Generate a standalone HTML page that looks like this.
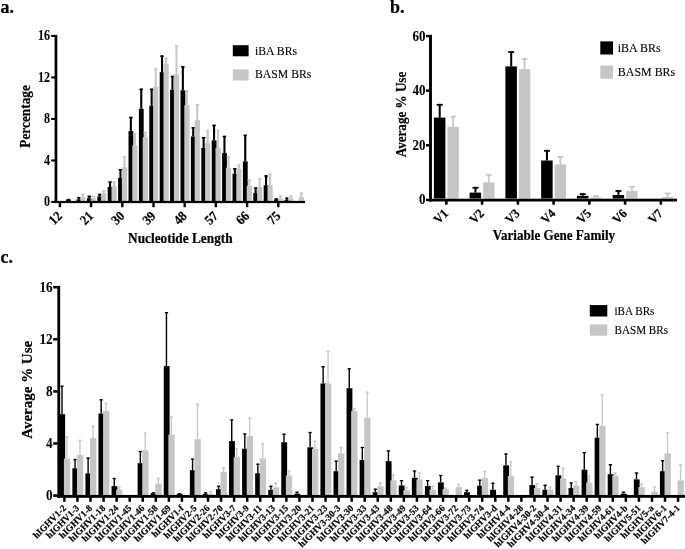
<!DOCTYPE html>
<html lang="en"><head><meta charset="utf-8"><title>Figure</title>
<style>html,body{margin:0;padding:0;background:#fff}svg{display:block;will-change:transform}text{font-family:"Liberation Serif","Times New Roman",serif;fill:#000;stroke:#000;stroke-width:0.1px}.b{font-weight:bold;stroke:#000;stroke-width:0.2px}.d{stroke-width:0.05px}</style></head><body>
<svg width="685" height="549" viewBox="0 0 685 549">
<rect width="685" height="549" fill="#fff"/>
<g id="chartA">
<rect x="67.4" y="198.9" width="2.1" height="0.7" fill="#000"/>
<rect x="66.7" y="198.9" width="3.5" height="1.5" fill="#000"/>
<rect x="66.1" y="199.6" width="4.8" height="1.4" fill="#000"/>
<rect x="77.8" y="196.9" width="2.1" height="2.4" fill="#000"/>
<rect x="77.1" y="196.9" width="3.5" height="1.5" fill="#000"/>
<rect x="76.5" y="199.3" width="4.8" height="1.7" fill="#000"/>
<rect x="81.9" y="193.8" width="2" height="3.6" fill="#c6c6c6"/>
<rect x="81.2" y="193.8" width="3.4" height="1.4" fill="#c6c6c6"/>
<rect x="80.3" y="197.4" width="5.2" height="3.6" fill="#c6c6c6"/>
<rect x="88.2" y="195.7" width="2.1" height="2.6" fill="#000"/>
<rect x="87.5" y="195.7" width="3.5" height="1.5" fill="#000"/>
<rect x="86.9" y="198.3" width="4.8" height="2.7" fill="#000"/>
<rect x="92.3" y="196" width="2" height="2.6" fill="#c6c6c6"/>
<rect x="91.6" y="196" width="3.4" height="1.4" fill="#c6c6c6"/>
<rect x="90.7" y="198.6" width="5.2" height="2.4" fill="#c6c6c6"/>
<rect x="98.6" y="193.8" width="2.1" height="2.6" fill="#000"/>
<rect x="97.9" y="193.8" width="3.5" height="1.5" fill="#000"/>
<rect x="97.3" y="196.4" width="4.8" height="4.6" fill="#000"/>
<rect x="102.7" y="190.3" width="2" height="2.8" fill="#c6c6c6"/>
<rect x="102" y="190.3" width="3.4" height="1.4" fill="#c6c6c6"/>
<rect x="101.1" y="193.1" width="5.2" height="7.9" fill="#c6c6c6"/>
<rect x="109" y="181.4" width="2.1" height="5.5" fill="#000"/>
<rect x="108.3" y="181.4" width="3.5" height="1.5" fill="#000"/>
<rect x="107.7" y="186.9" width="4.8" height="14.1" fill="#000"/>
<rect x="113.1" y="181.4" width="2" height="4.8" fill="#c6c6c6"/>
<rect x="112.4" y="181.4" width="3.4" height="1.4" fill="#c6c6c6"/>
<rect x="111.5" y="186.2" width="5.2" height="14.8" fill="#c6c6c6"/>
<rect x="119.4" y="169" width="2.1" height="8.9" fill="#000"/>
<rect x="118.7" y="169" width="3.5" height="1.5" fill="#000"/>
<rect x="118.1" y="177.9" width="4.8" height="23.1" fill="#000"/>
<rect x="123.5" y="156" width="2" height="11.2" fill="#c6c6c6"/>
<rect x="122.8" y="156" width="3.4" height="1.4" fill="#c6c6c6"/>
<rect x="121.9" y="167.2" width="5.2" height="33.8" fill="#c6c6c6"/>
<rect x="129.8" y="116.8" width="2.1" height="14.3" fill="#000"/>
<rect x="129.1" y="116.8" width="3.5" height="1.5" fill="#000"/>
<rect x="128.5" y="131.1" width="4.8" height="69.9" fill="#000"/>
<rect x="133.9" y="132.8" width="2" height="12.5" fill="#c6c6c6"/>
<rect x="133.2" y="132.8" width="3.4" height="1.4" fill="#c6c6c6"/>
<rect x="132.3" y="145.3" width="5.2" height="55.7" fill="#c6c6c6"/>
<rect x="140.2" y="88.6" width="2.1" height="20.2" fill="#000"/>
<rect x="139.5" y="88.6" width="3.5" height="1.5" fill="#000"/>
<rect x="138.9" y="108.8" width="4.8" height="92.2" fill="#000"/>
<rect x="144.3" y="131.8" width="2" height="5.4" fill="#c6c6c6"/>
<rect x="143.6" y="131.8" width="3.4" height="1.4" fill="#c6c6c6"/>
<rect x="142.7" y="137.2" width="5.2" height="63.8" fill="#c6c6c6"/>
<rect x="150.6" y="88.6" width="2.1" height="17.2" fill="#000"/>
<rect x="149.9" y="88.6" width="3.5" height="1.5" fill="#000"/>
<rect x="149.3" y="105.8" width="4.8" height="95.2" fill="#000"/>
<rect x="154.7" y="68.2" width="2" height="18.3" fill="#c6c6c6"/>
<rect x="154" y="68.2" width="3.4" height="1.4" fill="#c6c6c6"/>
<rect x="153.1" y="86.5" width="5.2" height="114.5" fill="#c6c6c6"/>
<rect x="161" y="55.4" width="2.1" height="16.7" fill="#000"/>
<rect x="160.3" y="55.4" width="3.5" height="1.5" fill="#000"/>
<rect x="159.7" y="72.1" width="4.8" height="128.9" fill="#000"/>
<rect x="165.1" y="57.6" width="2" height="5.8" fill="#c6c6c6"/>
<rect x="164.4" y="57.6" width="3.4" height="1.4" fill="#c6c6c6"/>
<rect x="163.5" y="63.4" width="5.2" height="137.6" fill="#c6c6c6"/>
<rect x="171.4" y="75.8" width="2.1" height="13.9" fill="#000"/>
<rect x="170.7" y="75.8" width="3.5" height="1.5" fill="#000"/>
<rect x="170.1" y="89.7" width="4.8" height="111.3" fill="#000"/>
<rect x="175.5" y="45.3" width="2" height="28.9" fill="#c6c6c6"/>
<rect x="174.8" y="45.3" width="3.4" height="1.4" fill="#c6c6c6"/>
<rect x="173.9" y="74.2" width="5.2" height="126.8" fill="#c6c6c6"/>
<rect x="181.8" y="66.1" width="2.1" height="24.2" fill="#000"/>
<rect x="181.1" y="66.1" width="3.5" height="1.5" fill="#000"/>
<rect x="180.5" y="90.3" width="4.8" height="110.7" fill="#000"/>
<rect x="185.9" y="90.3" width="2" height="14.9" fill="#c6c6c6"/>
<rect x="185.2" y="90.3" width="3.4" height="1.4" fill="#c6c6c6"/>
<rect x="184.3" y="105.2" width="5.2" height="95.8" fill="#c6c6c6"/>
<rect x="192.2" y="127.1" width="2.1" height="9.3" fill="#000"/>
<rect x="191.5" y="127.1" width="3.5" height="1.5" fill="#000"/>
<rect x="190.9" y="136.4" width="4.8" height="64.6" fill="#000"/>
<rect x="196.3" y="104" width="2" height="15.8" fill="#c6c6c6"/>
<rect x="195.6" y="104" width="3.4" height="1.4" fill="#c6c6c6"/>
<rect x="194.7" y="119.8" width="5.2" height="81.2" fill="#c6c6c6"/>
<rect x="202.6" y="137" width="2.1" height="10.9" fill="#000"/>
<rect x="201.9" y="137" width="3.5" height="1.5" fill="#000"/>
<rect x="201.3" y="147.9" width="4.8" height="53.1" fill="#000"/>
<rect x="206.7" y="129.8" width="2" height="13.3" fill="#c6c6c6"/>
<rect x="206" y="129.8" width="3.4" height="1.4" fill="#c6c6c6"/>
<rect x="205.1" y="143.1" width="5.2" height="57.9" fill="#c6c6c6"/>
<rect x="213" y="124.7" width="2.1" height="15.7" fill="#000"/>
<rect x="212.3" y="124.7" width="3.5" height="1.5" fill="#000"/>
<rect x="211.7" y="140.4" width="4.8" height="60.6" fill="#000"/>
<rect x="217.1" y="129.7" width="2" height="18.1" fill="#c6c6c6"/>
<rect x="216.4" y="129.7" width="3.4" height="1.4" fill="#c6c6c6"/>
<rect x="215.5" y="147.8" width="5.2" height="53.2" fill="#c6c6c6"/>
<rect x="223.4" y="135.8" width="2.1" height="17.3" fill="#000"/>
<rect x="222.7" y="135.8" width="3.5" height="1.5" fill="#000"/>
<rect x="222.1" y="153.1" width="4.8" height="47.9" fill="#000"/>
<rect x="227.5" y="156.3" width="2" height="11.4" fill="#c6c6c6"/>
<rect x="226.8" y="156.3" width="3.4" height="1.4" fill="#c6c6c6"/>
<rect x="225.9" y="167.7" width="5.2" height="33.3" fill="#c6c6c6"/>
<rect x="233.8" y="168" width="2.1" height="5.8" fill="#000"/>
<rect x="233.1" y="168" width="3.5" height="1.5" fill="#000"/>
<rect x="232.5" y="173.8" width="4.8" height="27.2" fill="#000"/>
<rect x="237.9" y="164.6" width="2" height="4.1" fill="#c6c6c6"/>
<rect x="237.2" y="164.6" width="3.4" height="1.4" fill="#c6c6c6"/>
<rect x="236.3" y="168.7" width="5.2" height="32.3" fill="#c6c6c6"/>
<rect x="244.2" y="134.7" width="2.1" height="26.7" fill="#000"/>
<rect x="243.5" y="134.7" width="3.5" height="1.5" fill="#000"/>
<rect x="242.9" y="161.4" width="4.8" height="39.6" fill="#000"/>
<rect x="248.3" y="179.6" width="2" height="6.2" fill="#c6c6c6"/>
<rect x="247.6" y="179.6" width="3.4" height="1.4" fill="#c6c6c6"/>
<rect x="246.7" y="185.8" width="5.2" height="15.2" fill="#c6c6c6"/>
<rect x="254.6" y="187.4" width="2.1" height="5.7" fill="#000"/>
<rect x="253.9" y="187.4" width="3.5" height="1.5" fill="#000"/>
<rect x="253.3" y="193.1" width="4.8" height="7.9" fill="#000"/>
<rect x="258.7" y="178.2" width="2" height="8.7" fill="#c6c6c6"/>
<rect x="258" y="178.2" width="3.4" height="1.4" fill="#c6c6c6"/>
<rect x="257.1" y="186.9" width="5.2" height="14.1" fill="#c6c6c6"/>
<rect x="265" y="175.3" width="2.1" height="9.9" fill="#000"/>
<rect x="264.3" y="175.3" width="3.5" height="1.5" fill="#000"/>
<rect x="263.7" y="185.2" width="4.8" height="15.8" fill="#000"/>
<rect x="269.1" y="173.5" width="2" height="11.7" fill="#c6c6c6"/>
<rect x="268.4" y="173.5" width="3.4" height="1.4" fill="#c6c6c6"/>
<rect x="267.5" y="185.2" width="5.2" height="15.8" fill="#c6c6c6"/>
<rect x="275.4" y="198.3" width="2.1" height="1" fill="#000"/>
<rect x="274.7" y="198.3" width="3.5" height="1.5" fill="#000"/>
<rect x="274.1" y="199.3" width="4.8" height="1.7" fill="#000"/>
<rect x="279.5" y="195.3" width="2" height="3" fill="#c6c6c6"/>
<rect x="278.8" y="195.3" width="3.4" height="1.4" fill="#c6c6c6"/>
<rect x="277.9" y="198.3" width="5.2" height="2.7" fill="#c6c6c6"/>
<rect x="285.8" y="197.6" width="2.1" height="2.2" fill="#000"/>
<rect x="285.1" y="197.6" width="3.5" height="1.5" fill="#000"/>
<rect x="284.5" y="199.8" width="4.8" height="1.2" fill="#000"/>
<rect x="289.9" y="195.3" width="2" height="3" fill="#c6c6c6"/>
<rect x="289.2" y="195.3" width="3.4" height="1.4" fill="#c6c6c6"/>
<rect x="288.3" y="198.3" width="5.2" height="2.7" fill="#c6c6c6"/>
<rect x="300.3" y="192.5" width="2" height="4.7" fill="#c6c6c6"/>
<rect x="299.6" y="192.5" width="3.4" height="1.4" fill="#c6c6c6"/>
<rect x="298.7" y="197.2" width="5.2" height="3.8" fill="#c6c6c6"/>
<rect x="54.6" y="34.9" width="2.7" height="168.1" fill="#000"/>
<rect x="54.6" y="200.9" width="250.4" height="2.2" fill="#000"/>
<rect x="51.2" y="34.9" width="3.8" height="2.1" fill="#000"/>
<text class="b d" font-size="13" text-anchor="end" transform="translate(50,40.2) scale(0.93,1.07)">16</text>
<rect x="51.2" y="76.4" width="3.8" height="2.1" fill="#000"/>
<text class="b d" font-size="13" text-anchor="end" transform="translate(50,81.7) scale(0.93,1.07)">12</text>
<rect x="51.2" y="117.9" width="3.8" height="2.1" fill="#000"/>
<text class="b d" font-size="13" text-anchor="end" transform="translate(50,123.2) scale(0.93,1.07)">8</text>
<rect x="51.2" y="159.4" width="3.8" height="2.1" fill="#000"/>
<text class="b d" font-size="13" text-anchor="end" transform="translate(50,164.7) scale(0.93,1.07)">4</text>
<rect x="51.2" y="200.9" width="3.8" height="2.1" fill="#000"/>
<text class="b d" font-size="13" text-anchor="end" transform="translate(50,206.2) scale(0.93,1.07)">0</text>
<rect x="58.7" y="202.5" width="2.4" height="4.7" fill="#000"/>
<text class="b" font-size="13" text-anchor="end" transform="translate(62.9,216.8) rotate(-45) scale(0.96,1.04)">12</text>
<rect x="89.9" y="202.5" width="2.4" height="4.7" fill="#000"/>
<text class="b" font-size="13" text-anchor="end" transform="translate(94.1,216.8) rotate(-45) scale(0.96,1.04)">21</text>
<rect x="121.1" y="202.5" width="2.4" height="4.7" fill="#000"/>
<text class="b" font-size="13" text-anchor="end" transform="translate(125.3,216.8) rotate(-45) scale(0.96,1.04)">30</text>
<rect x="152.3" y="202.5" width="2.4" height="4.7" fill="#000"/>
<text class="b" font-size="13" text-anchor="end" transform="translate(156.5,216.8) rotate(-45) scale(0.96,1.04)">39</text>
<rect x="183.5" y="202.5" width="2.4" height="4.7" fill="#000"/>
<text class="b" font-size="13" text-anchor="end" transform="translate(187.7,216.8) rotate(-45) scale(0.96,1.04)">48</text>
<rect x="214.7" y="202.5" width="2.4" height="4.7" fill="#000"/>
<text class="b" font-size="13" text-anchor="end" transform="translate(218.9,216.8) rotate(-45) scale(0.96,1.04)">57</text>
<rect x="245.9" y="202.5" width="2.4" height="4.7" fill="#000"/>
<text class="b" font-size="13" text-anchor="end" transform="translate(250.1,216.8) rotate(-45) scale(0.96,1.04)">66</text>
<rect x="277.1" y="202.5" width="2.4" height="4.7" fill="#000"/>
<text class="b" font-size="13" text-anchor="end" transform="translate(281.3,216.8) rotate(-45) scale(0.96,1.04)">75</text>
<text class="b" font-size="13.3" text-anchor="middle" transform="translate(180.35,242.6) scale(1,1.05)">Nucleotide Length</text>
<text class="b" font-size="13.3" text-anchor="middle" transform="translate(30.3,116.4) rotate(-90) scale(1,1.05)">Percentage</text>
<rect x="232.8" y="45.2" width="15.8" height="11.1" fill="#000"/>
<rect x="232.8" y="69.4" width="15.8" height="11.1" fill="#c6c6c6"/>
<text font-size="11.75" transform="translate(255,54.6) scale(1,1.05)">iBA BRs</text>
<text font-size="11.75" transform="translate(255,78.4) scale(1,1.05)">BASM BRs</text>
<text class="b" font-size="18" transform="translate(0.5,13) scale(1,1.07)">a.</text>
</g>
<g id="chartB">
<rect x="452.2" y="115.8" width="1.8" height="11" fill="#c6c6c6"/>
<rect x="450.1" y="115.8" width="6" height="1.6" fill="#c6c6c6"/>
<rect x="447.4" y="126.8" width="11.4" height="71.7" fill="#c6c6c6"/>
<rect x="438.7" y="103.9" width="2" height="13.7" fill="#000"/>
<rect x="436.7" y="103.9" width="6" height="1.8" fill="#000"/>
<rect x="433.9" y="117.6" width="11.5" height="80.9" fill="#000"/>
<rect x="487.95" y="174" width="1.8" height="8.4" fill="#c6c6c6"/>
<rect x="485.85" y="174" width="6" height="1.6" fill="#c6c6c6"/>
<rect x="483.15" y="182.4" width="11.4" height="16.1" fill="#c6c6c6"/>
<rect x="474.45" y="186.9" width="2" height="5.7" fill="#000"/>
<rect x="472.45" y="186.9" width="6" height="1.8" fill="#000"/>
<rect x="469.65" y="192.6" width="11.5" height="5.9" fill="#000"/>
<rect x="523.7" y="58.3" width="1.8" height="10.8" fill="#c6c6c6"/>
<rect x="521.6" y="58.3" width="6" height="1.6" fill="#c6c6c6"/>
<rect x="518.9" y="69.1" width="11.4" height="129.4" fill="#c6c6c6"/>
<rect x="510.2" y="51.2" width="2" height="15.2" fill="#000"/>
<rect x="508.2" y="51.2" width="6" height="1.8" fill="#000"/>
<rect x="505.4" y="66.4" width="11.5" height="132.1" fill="#000"/>
<rect x="559.45" y="156.1" width="1.8" height="8.3" fill="#c6c6c6"/>
<rect x="557.35" y="156.1" width="6" height="1.6" fill="#c6c6c6"/>
<rect x="554.65" y="164.4" width="11.4" height="34.1" fill="#c6c6c6"/>
<rect x="545.95" y="149.9" width="2" height="10.6" fill="#000"/>
<rect x="543.95" y="149.9" width="6" height="1.8" fill="#000"/>
<rect x="541.15" y="160.5" width="11.5" height="38" fill="#000"/>
<rect x="595.2" y="195.3" width="1.8" height="2.1" fill="#c6c6c6"/>
<rect x="593.1" y="195.3" width="6" height="1.6" fill="#c6c6c6"/>
<rect x="590.4" y="197.4" width="11.4" height="1.1" fill="#c6c6c6"/>
<rect x="581.7" y="193.2" width="2" height="2.6" fill="#000"/>
<rect x="579.7" y="193.2" width="6" height="1.8" fill="#000"/>
<rect x="576.9" y="195.8" width="11.5" height="2.7" fill="#000"/>
<rect x="630.95" y="186" width="1.8" height="4.9" fill="#c6c6c6"/>
<rect x="628.85" y="186" width="6" height="1.6" fill="#c6c6c6"/>
<rect x="626.15" y="190.9" width="11.4" height="7.6" fill="#c6c6c6"/>
<rect x="617.45" y="190.1" width="2" height="4.9" fill="#000"/>
<rect x="615.45" y="190.1" width="6" height="1.8" fill="#000"/>
<rect x="612.65" y="195" width="11.5" height="3.5" fill="#000"/>
<rect x="666.7" y="192.7" width="1.8" height="4.3" fill="#c6c6c6"/>
<rect x="664.6" y="192.7" width="6" height="1.6" fill="#c6c6c6"/>
<rect x="661.9" y="197" width="11.4" height="1.5" fill="#c6c6c6"/>
<rect x="429.05" y="34.8" width="2.9" height="166.7" fill="#000"/>
<rect x="428.8" y="198.7" width="248.2" height="2.8" fill="#000"/>
<rect x="426" y="34.8" width="3" height="2.4" fill="#000"/>
<text class="b d" font-size="13" text-anchor="end" transform="translate(425.4,40.5) scale(1,1.04)">60</text>
<rect x="426" y="89.45" width="3" height="2.4" fill="#000"/>
<text class="b d" font-size="13" text-anchor="end" transform="translate(425.4,95.15) scale(1,1.04)">40</text>
<rect x="426" y="144.1" width="3" height="2.4" fill="#000"/>
<text class="b d" font-size="13" text-anchor="end" transform="translate(425.4,149.8) scale(1,1.04)">20</text>
<rect x="426" y="198.75" width="3" height="2.4" fill="#000"/>
<text class="b d" font-size="13" text-anchor="end" transform="translate(425.4,204.45) scale(1,1.04)">0</text>
<rect x="445.05" y="200.5" width="2.6" height="4.2" fill="#000"/>
<text class="b" font-size="12.6" text-anchor="end" transform="translate(449.1,214.2) rotate(-45) scale(0.95,1.02)">V1</text>
<rect x="480.8" y="200.5" width="2.6" height="4.2" fill="#000"/>
<text class="b" font-size="12.6" text-anchor="end" transform="translate(484.85,214.2) rotate(-45) scale(0.95,1.02)">V2</text>
<rect x="516.55" y="200.5" width="2.6" height="4.2" fill="#000"/>
<text class="b" font-size="12.6" text-anchor="end" transform="translate(520.6,214.2) rotate(-45) scale(0.95,1.02)">V3</text>
<rect x="552.3" y="200.5" width="2.6" height="4.2" fill="#000"/>
<text class="b" font-size="12.6" text-anchor="end" transform="translate(556.35,214.2) rotate(-45) scale(0.95,1.02)">V4</text>
<rect x="588.05" y="200.5" width="2.6" height="4.2" fill="#000"/>
<text class="b" font-size="12.6" text-anchor="end" transform="translate(592.1,214.2) rotate(-45) scale(0.95,1.02)">V5</text>
<rect x="623.8" y="200.5" width="2.6" height="4.2" fill="#000"/>
<text class="b" font-size="12.6" text-anchor="end" transform="translate(627.85,214.2) rotate(-45) scale(0.95,1.02)">V6</text>
<rect x="659.55" y="200.5" width="2.6" height="4.2" fill="#000"/>
<text class="b" font-size="12.6" text-anchor="end" transform="translate(663.6,214.2) rotate(-45) scale(0.95,1.02)">V7</text>
<text class="b" font-size="13.1" text-anchor="middle" transform="translate(553.9,240.4) scale(1,1.05)">Variable Gene Family</text>
<text class="b" font-size="13.1" text-anchor="middle" transform="translate(406.4,114.5) rotate(-90) scale(1,1.05)">Average % Use</text>
<rect x="600.3" y="41.4" width="12.7" height="13.1" fill="#000"/>
<rect x="600.3" y="65.6" width="12.7" height="13.1" fill="#c6c6c6"/>
<text font-size="11.95" transform="translate(617.8,52.2) scale(1,1.05)">iBA BRs</text>
<text font-size="11.95" transform="translate(617.8,76.2) scale(1,1.05)">BASM BRs</text>
<text class="b" font-size="18" transform="translate(390,13) scale(1,1.07)">b.</text>
</g>
<g id="chartC">
<rect x="61.3" y="385.6" width="1.4" height="28.6" fill="#000"/>
<rect x="60.35" y="385.6" width="3.3" height="1.3" fill="#000"/>
<rect x="59.3" y="414.2" width="5.85" height="81" fill="#000"/>
<rect x="66.25" y="436.4" width="1.3" height="22.1" fill="#c6c6c6"/>
<rect x="65.3" y="436.4" width="3.2" height="1.2" fill="#c6c6c6"/>
<rect x="63.9" y="458.5" width="6.3" height="36.7" fill="#c6c6c6"/>
<rect x="74.36" y="458.9" width="1.4" height="9.4" fill="#000"/>
<rect x="73.41" y="458.9" width="3.3" height="1.3" fill="#000"/>
<rect x="72.36" y="468.3" width="5.85" height="26.9" fill="#000"/>
<rect x="79.31" y="439.7" width="1.3" height="15.3" fill="#c6c6c6"/>
<rect x="78.36" y="439.7" width="3.2" height="1.2" fill="#c6c6c6"/>
<rect x="76.96" y="455" width="6.3" height="40.2" fill="#c6c6c6"/>
<rect x="87.41" y="457.5" width="1.4" height="15.9" fill="#000"/>
<rect x="86.46" y="457.5" width="3.3" height="1.3" fill="#000"/>
<rect x="85.41" y="473.4" width="5.85" height="21.8" fill="#000"/>
<rect x="92.36" y="425.4" width="1.3" height="12.7" fill="#c6c6c6"/>
<rect x="91.41" y="425.4" width="3.2" height="1.2" fill="#c6c6c6"/>
<rect x="90.01" y="438.1" width="6.3" height="57.1" fill="#c6c6c6"/>
<rect x="100.47" y="399.2" width="1.4" height="14.3" fill="#000"/>
<rect x="99.52" y="399.2" width="3.3" height="1.3" fill="#000"/>
<rect x="98.47" y="413.5" width="5.85" height="81.7" fill="#000"/>
<rect x="105.42" y="402.7" width="1.3" height="8.2" fill="#c6c6c6"/>
<rect x="104.47" y="402.7" width="3.2" height="1.2" fill="#c6c6c6"/>
<rect x="103.07" y="410.9" width="6.3" height="84.3" fill="#c6c6c6"/>
<rect x="113.53" y="477.9" width="1.4" height="8.2" fill="#000"/>
<rect x="112.58" y="477.9" width="3.3" height="1.3" fill="#000"/>
<rect x="111.53" y="486.1" width="5.85" height="9.1" fill="#000"/>
<rect x="118.48" y="486.7" width="1.3" height="2.9" fill="#c6c6c6"/>
<rect x="117.53" y="486.7" width="3.2" height="1.2" fill="#c6c6c6"/>
<rect x="116.13" y="489.6" width="6.3" height="5.6" fill="#c6c6c6"/>
<rect x="139.64" y="450.9" width="1.4" height="12.3" fill="#000"/>
<rect x="138.69" y="450.9" width="3.3" height="1.3" fill="#000"/>
<rect x="137.64" y="463.2" width="5.85" height="32" fill="#000"/>
<rect x="144.59" y="432.6" width="1.3" height="17.7" fill="#c6c6c6"/>
<rect x="143.64" y="432.6" width="3.2" height="1.2" fill="#c6c6c6"/>
<rect x="142.24" y="450.3" width="6.3" height="44.9" fill="#c6c6c6"/>
<rect x="152.7" y="492.2" width="1.4" height="1.1" fill="#000"/>
<rect x="151.75" y="492.2" width="3.3" height="1.3" fill="#000"/>
<rect x="150.7" y="493.3" width="5.85" height="1.9" fill="#000"/>
<rect x="157.65" y="477.9" width="1.3" height="5.7" fill="#c6c6c6"/>
<rect x="156.7" y="477.9" width="3.2" height="1.2" fill="#c6c6c6"/>
<rect x="155.3" y="483.6" width="6.3" height="11.6" fill="#c6c6c6"/>
<rect x="165.76" y="312" width="1.4" height="54.1" fill="#000"/>
<rect x="164.81" y="312" width="3.3" height="1.3" fill="#000"/>
<rect x="163.76" y="366.1" width="5.85" height="129.1" fill="#000"/>
<rect x="170.71" y="416.2" width="1.3" height="18.4" fill="#c6c6c6"/>
<rect x="169.76" y="416.2" width="3.2" height="1.2" fill="#c6c6c6"/>
<rect x="168.36" y="434.6" width="6.3" height="60.6" fill="#c6c6c6"/>
<rect x="178.81" y="493" width="1.4" height="0.9" fill="#000"/>
<rect x="177.86" y="493" width="3.3" height="1.3" fill="#000"/>
<rect x="176.81" y="493.9" width="5.85" height="1.3" fill="#000"/>
<rect x="191.87" y="458.5" width="1.4" height="11.7" fill="#000"/>
<rect x="190.92" y="458.5" width="3.3" height="1.3" fill="#000"/>
<rect x="189.87" y="470.2" width="5.85" height="25" fill="#000"/>
<rect x="196.82" y="403.7" width="1.3" height="35.4" fill="#c6c6c6"/>
<rect x="195.87" y="403.7" width="3.2" height="1.2" fill="#c6c6c6"/>
<rect x="194.47" y="439.1" width="6.3" height="56.1" fill="#c6c6c6"/>
<rect x="204.93" y="492.2" width="1.4" height="1.7" fill="#000"/>
<rect x="203.98" y="492.2" width="3.3" height="1.3" fill="#000"/>
<rect x="202.93" y="493.9" width="5.85" height="1.3" fill="#000"/>
<rect x="209.88" y="491.2" width="1.3" height="2.7" fill="#c6c6c6"/>
<rect x="208.93" y="491.2" width="3.2" height="1.2" fill="#c6c6c6"/>
<rect x="207.53" y="493.9" width="6.3" height="1.3" fill="#c6c6c6"/>
<rect x="217.98" y="485.7" width="1.4" height="3.5" fill="#000"/>
<rect x="217.03" y="485.7" width="3.3" height="1.3" fill="#000"/>
<rect x="215.98" y="489.2" width="5.85" height="6" fill="#000"/>
<rect x="222.93" y="467.3" width="1.3" height="4.5" fill="#c6c6c6"/>
<rect x="221.98" y="467.3" width="3.2" height="1.2" fill="#c6c6c6"/>
<rect x="220.58" y="471.8" width="6.3" height="23.4" fill="#c6c6c6"/>
<rect x="231.04" y="419.3" width="1.4" height="21.8" fill="#000"/>
<rect x="230.09" y="419.3" width="3.3" height="1.3" fill="#000"/>
<rect x="229.04" y="441.1" width="5.85" height="54.1" fill="#000"/>
<rect x="235.99" y="448.3" width="1.3" height="8.8" fill="#c6c6c6"/>
<rect x="235.04" y="448.3" width="3.2" height="1.2" fill="#c6c6c6"/>
<rect x="233.64" y="457.1" width="6.3" height="38.1" fill="#c6c6c6"/>
<rect x="244.1" y="433.4" width="1.4" height="15.3" fill="#000"/>
<rect x="243.15" y="433.4" width="3.3" height="1.3" fill="#000"/>
<rect x="242.1" y="448.7" width="5.85" height="46.5" fill="#000"/>
<rect x="249.05" y="417.6" width="1.3" height="18.4" fill="#c6c6c6"/>
<rect x="248.1" y="417.6" width="3.2" height="1.2" fill="#c6c6c6"/>
<rect x="246.7" y="436" width="6.3" height="59.2" fill="#c6c6c6"/>
<rect x="257.16" y="463.6" width="1.4" height="9.6" fill="#000"/>
<rect x="256.21" y="463.6" width="3.3" height="1.3" fill="#000"/>
<rect x="255.16" y="473.2" width="5.85" height="22" fill="#000"/>
<rect x="262.11" y="443.2" width="1.3" height="15.3" fill="#c6c6c6"/>
<rect x="261.16" y="443.2" width="3.2" height="1.2" fill="#c6c6c6"/>
<rect x="259.76" y="458.5" width="6.3" height="36.7" fill="#c6c6c6"/>
<rect x="270.21" y="485.7" width="1.4" height="4.1" fill="#000"/>
<rect x="269.26" y="485.7" width="3.3" height="1.3" fill="#000"/>
<rect x="268.21" y="489.8" width="5.85" height="5.4" fill="#000"/>
<rect x="275.16" y="482.4" width="1.3" height="5.1" fill="#c6c6c6"/>
<rect x="274.21" y="482.4" width="3.2" height="1.2" fill="#c6c6c6"/>
<rect x="272.81" y="487.5" width="6.3" height="7.7" fill="#c6c6c6"/>
<rect x="283.27" y="433.6" width="1.4" height="8.6" fill="#000"/>
<rect x="282.32" y="433.6" width="3.3" height="1.3" fill="#000"/>
<rect x="281.27" y="442.2" width="5.85" height="53" fill="#000"/>
<rect x="288.22" y="470.4" width="1.3" height="5.1" fill="#c6c6c6"/>
<rect x="287.27" y="470.4" width="3.2" height="1.2" fill="#c6c6c6"/>
<rect x="285.87" y="475.5" width="6.3" height="19.7" fill="#c6c6c6"/>
<rect x="296.33" y="491.6" width="1.4" height="2.1" fill="#000"/>
<rect x="295.38" y="491.6" width="3.3" height="1.3" fill="#000"/>
<rect x="294.33" y="493.7" width="5.85" height="1.5" fill="#000"/>
<rect x="309.38" y="431.9" width="1.4" height="15.4" fill="#000"/>
<rect x="308.43" y="431.9" width="3.3" height="1.3" fill="#000"/>
<rect x="307.38" y="447.3" width="5.85" height="47.9" fill="#000"/>
<rect x="314.33" y="440.7" width="1.3" height="8.2" fill="#c6c6c6"/>
<rect x="313.38" y="440.7" width="3.2" height="1.2" fill="#c6c6c6"/>
<rect x="311.98" y="448.9" width="6.3" height="46.3" fill="#c6c6c6"/>
<rect x="322.44" y="366.1" width="1.4" height="17.4" fill="#000"/>
<rect x="321.49" y="366.1" width="3.3" height="1.3" fill="#000"/>
<rect x="320.44" y="383.5" width="5.85" height="111.7" fill="#000"/>
<rect x="327.39" y="350.8" width="1.3" height="32.7" fill="#c6c6c6"/>
<rect x="326.44" y="350.8" width="3.2" height="1.2" fill="#c6c6c6"/>
<rect x="325.04" y="383.5" width="6.3" height="111.7" fill="#c6c6c6"/>
<rect x="335.5" y="460.6" width="1.4" height="10.6" fill="#000"/>
<rect x="334.55" y="460.6" width="3.3" height="1.3" fill="#000"/>
<rect x="333.5" y="471.2" width="5.85" height="24" fill="#000"/>
<rect x="340.45" y="446.7" width="1.3" height="6.7" fill="#c6c6c6"/>
<rect x="339.5" y="446.7" width="3.2" height="1.2" fill="#c6c6c6"/>
<rect x="338.1" y="453.4" width="6.3" height="41.8" fill="#c6c6c6"/>
<rect x="348.55" y="368.2" width="1.4" height="20" fill="#000"/>
<rect x="347.6" y="368.2" width="3.3" height="1.3" fill="#000"/>
<rect x="346.55" y="388.2" width="5.85" height="107" fill="#000"/>
<rect x="353.5" y="407.8" width="1.3" height="3.3" fill="#c6c6c6"/>
<rect x="352.55" y="407.8" width="3.2" height="1.2" fill="#c6c6c6"/>
<rect x="351.15" y="411.1" width="6.3" height="84.1" fill="#c6c6c6"/>
<rect x="361.61" y="446.9" width="1.4" height="13" fill="#000"/>
<rect x="360.66" y="446.9" width="3.3" height="1.3" fill="#000"/>
<rect x="359.61" y="459.9" width="5.85" height="35.3" fill="#000"/>
<rect x="366.56" y="391.7" width="1.3" height="25.9" fill="#c6c6c6"/>
<rect x="365.61" y="391.7" width="3.2" height="1.2" fill="#c6c6c6"/>
<rect x="364.21" y="417.6" width="6.3" height="77.6" fill="#c6c6c6"/>
<rect x="374.67" y="488.6" width="1.4" height="3.6" fill="#000"/>
<rect x="373.72" y="488.6" width="3.3" height="1.3" fill="#000"/>
<rect x="372.67" y="492.2" width="5.85" height="3" fill="#000"/>
<rect x="379.62" y="482" width="1.3" height="4.1" fill="#c6c6c6"/>
<rect x="378.67" y="482" width="3.2" height="1.2" fill="#c6c6c6"/>
<rect x="377.27" y="486.1" width="6.3" height="9.1" fill="#c6c6c6"/>
<rect x="387.73" y="450.3" width="1.4" height="10.9" fill="#000"/>
<rect x="386.78" y="450.3" width="3.3" height="1.3" fill="#000"/>
<rect x="385.73" y="461.2" width="5.85" height="34" fill="#000"/>
<rect x="392.68" y="474.2" width="1.3" height="6.2" fill="#c6c6c6"/>
<rect x="391.73" y="474.2" width="3.2" height="1.2" fill="#c6c6c6"/>
<rect x="390.33" y="480.4" width="6.3" height="14.8" fill="#c6c6c6"/>
<rect x="400.78" y="480" width="1.4" height="5.5" fill="#000"/>
<rect x="399.83" y="480" width="3.3" height="1.3" fill="#000"/>
<rect x="398.78" y="485.5" width="5.85" height="9.7" fill="#000"/>
<rect x="405.73" y="487.1" width="1.3" height="3.1" fill="#c6c6c6"/>
<rect x="404.78" y="487.1" width="3.2" height="1.2" fill="#c6c6c6"/>
<rect x="403.38" y="490.2" width="6.3" height="5" fill="#c6c6c6"/>
<rect x="413.84" y="470.4" width="1.4" height="7.5" fill="#000"/>
<rect x="412.89" y="470.4" width="3.3" height="1.3" fill="#000"/>
<rect x="411.84" y="477.9" width="5.85" height="17.3" fill="#000"/>
<rect x="418.79" y="472.4" width="1.3" height="7" fill="#c6c6c6"/>
<rect x="417.84" y="472.4" width="3.2" height="1.2" fill="#c6c6c6"/>
<rect x="416.44" y="479.4" width="6.3" height="15.8" fill="#c6c6c6"/>
<rect x="426.9" y="480" width="1.4" height="6.1" fill="#000"/>
<rect x="425.95" y="480" width="3.3" height="1.3" fill="#000"/>
<rect x="424.9" y="486.1" width="5.85" height="9.1" fill="#000"/>
<rect x="431.85" y="485.7" width="1.3" height="3.9" fill="#c6c6c6"/>
<rect x="430.9" y="485.7" width="3.2" height="1.2" fill="#c6c6c6"/>
<rect x="429.5" y="489.6" width="6.3" height="5.6" fill="#c6c6c6"/>
<rect x="439.95" y="474.9" width="1.4" height="7.5" fill="#000"/>
<rect x="439" y="474.9" width="3.3" height="1.3" fill="#000"/>
<rect x="437.95" y="482.4" width="5.85" height="12.8" fill="#000"/>
<rect x="444.9" y="487.5" width="1.3" height="1.7" fill="#c6c6c6"/>
<rect x="443.95" y="487.5" width="3.2" height="1.2" fill="#c6c6c6"/>
<rect x="442.55" y="489.2" width="6.3" height="6" fill="#c6c6c6"/>
<rect x="457.96" y="483.6" width="1.3" height="3.5" fill="#c6c6c6"/>
<rect x="457.01" y="483.6" width="3.2" height="1.2" fill="#c6c6c6"/>
<rect x="455.61" y="487.1" width="6.3" height="8.1" fill="#c6c6c6"/>
<rect x="466.07" y="489.8" width="1.4" height="2.4" fill="#000"/>
<rect x="465.12" y="489.8" width="3.3" height="1.3" fill="#000"/>
<rect x="464.07" y="492.2" width="5.85" height="3" fill="#000"/>
<rect x="479.12" y="479.6" width="1.4" height="6.1" fill="#000"/>
<rect x="478.17" y="479.6" width="3.3" height="1.3" fill="#000"/>
<rect x="477.12" y="485.7" width="5.85" height="9.5" fill="#000"/>
<rect x="484.07" y="470.8" width="1.3" height="7.1" fill="#c6c6c6"/>
<rect x="483.12" y="470.8" width="3.2" height="1.2" fill="#c6c6c6"/>
<rect x="481.72" y="477.9" width="6.3" height="17.3" fill="#c6c6c6"/>
<rect x="492.18" y="482.6" width="1.4" height="7.2" fill="#000"/>
<rect x="491.23" y="482.6" width="3.3" height="1.3" fill="#000"/>
<rect x="490.18" y="489.8" width="5.85" height="5.4" fill="#000"/>
<rect x="505.24" y="453.4" width="1.4" height="11.9" fill="#000"/>
<rect x="504.29" y="453.4" width="3.3" height="1.3" fill="#000"/>
<rect x="503.24" y="465.3" width="5.85" height="29.9" fill="#000"/>
<rect x="510.19" y="461" width="1.3" height="14.9" fill="#c6c6c6"/>
<rect x="509.24" y="461" width="3.2" height="1.2" fill="#c6c6c6"/>
<rect x="507.84" y="475.9" width="6.3" height="19.3" fill="#c6c6c6"/>
<rect x="531.35" y="476.5" width="1.4" height="8.6" fill="#000"/>
<rect x="530.4" y="476.5" width="3.3" height="1.3" fill="#000"/>
<rect x="529.35" y="485.1" width="5.85" height="10.1" fill="#000"/>
<rect x="536.3" y="483" width="1.3" height="5.1" fill="#c6c6c6"/>
<rect x="535.35" y="483" width="3.2" height="1.2" fill="#c6c6c6"/>
<rect x="533.95" y="488.1" width="6.3" height="7.1" fill="#c6c6c6"/>
<rect x="544.41" y="484.7" width="1.4" height="5.1" fill="#000"/>
<rect x="543.46" y="484.7" width="3.3" height="1.3" fill="#000"/>
<rect x="542.41" y="489.8" width="5.85" height="5.4" fill="#000"/>
<rect x="549.36" y="486.5" width="1.3" height="3.3" fill="#c6c6c6"/>
<rect x="548.41" y="486.5" width="3.2" height="1.2" fill="#c6c6c6"/>
<rect x="547.01" y="489.8" width="6.3" height="5.4" fill="#c6c6c6"/>
<rect x="557.47" y="465.7" width="1.4" height="9.6" fill="#000"/>
<rect x="556.52" y="465.7" width="3.3" height="1.3" fill="#000"/>
<rect x="555.47" y="475.3" width="5.85" height="19.9" fill="#000"/>
<rect x="562.42" y="467.7" width="1.3" height="10.6" fill="#c6c6c6"/>
<rect x="561.47" y="467.7" width="3.2" height="1.2" fill="#c6c6c6"/>
<rect x="560.07" y="478.3" width="6.3" height="16.9" fill="#c6c6c6"/>
<rect x="570.52" y="482.4" width="1.4" height="5.7" fill="#000"/>
<rect x="569.57" y="482.4" width="3.3" height="1.3" fill="#000"/>
<rect x="568.52" y="488.1" width="5.85" height="7.1" fill="#000"/>
<rect x="575.47" y="481" width="1.3" height="4.5" fill="#c6c6c6"/>
<rect x="574.52" y="481" width="3.2" height="1.2" fill="#c6c6c6"/>
<rect x="573.12" y="485.5" width="6.3" height="9.7" fill="#c6c6c6"/>
<rect x="583.58" y="452" width="1.4" height="17.7" fill="#000"/>
<rect x="582.63" y="452" width="3.3" height="1.3" fill="#000"/>
<rect x="581.58" y="469.7" width="5.85" height="25.5" fill="#000"/>
<rect x="588.53" y="475.5" width="1.3" height="7.1" fill="#c6c6c6"/>
<rect x="587.58" y="475.5" width="3.2" height="1.2" fill="#c6c6c6"/>
<rect x="586.18" y="482.6" width="6.3" height="12.6" fill="#c6c6c6"/>
<rect x="596.64" y="423.8" width="1.4" height="13.9" fill="#000"/>
<rect x="595.69" y="423.8" width="3.3" height="1.3" fill="#000"/>
<rect x="594.64" y="437.7" width="5.85" height="57.5" fill="#000"/>
<rect x="601.59" y="394.1" width="1.3" height="31.7" fill="#c6c6c6"/>
<rect x="600.64" y="394.1" width="3.2" height="1.2" fill="#c6c6c6"/>
<rect x="599.24" y="425.8" width="6.3" height="69.4" fill="#c6c6c6"/>
<rect x="609.69" y="464" width="1.4" height="10.2" fill="#000"/>
<rect x="608.74" y="464" width="3.3" height="1.3" fill="#000"/>
<rect x="607.69" y="474.2" width="5.85" height="21" fill="#000"/>
<rect x="614.64" y="472.4" width="1.3" height="3.1" fill="#c6c6c6"/>
<rect x="613.69" y="472.4" width="3.2" height="1.2" fill="#c6c6c6"/>
<rect x="612.29" y="475.5" width="6.3" height="19.7" fill="#c6c6c6"/>
<rect x="622.75" y="491.6" width="1.4" height="2.1" fill="#000"/>
<rect x="621.8" y="491.6" width="3.3" height="1.3" fill="#000"/>
<rect x="620.75" y="493.7" width="5.85" height="1.5" fill="#000"/>
<rect x="635.81" y="472.4" width="1.4" height="7" fill="#000"/>
<rect x="634.86" y="472.4" width="3.3" height="1.3" fill="#000"/>
<rect x="633.81" y="479.4" width="5.85" height="15.8" fill="#000"/>
<rect x="640.76" y="483.4" width="1.3" height="3.7" fill="#c6c6c6"/>
<rect x="639.81" y="483.4" width="3.2" height="1.2" fill="#c6c6c6"/>
<rect x="638.41" y="487.1" width="6.3" height="8.1" fill="#c6c6c6"/>
<rect x="653.82" y="486.5" width="1.3" height="5.1" fill="#c6c6c6"/>
<rect x="652.87" y="486.5" width="3.2" height="1.2" fill="#c6c6c6"/>
<rect x="651.47" y="491.6" width="6.3" height="3.6" fill="#c6c6c6"/>
<rect x="661.92" y="460.1" width="1.4" height="11.1" fill="#000"/>
<rect x="660.97" y="460.1" width="3.3" height="1.3" fill="#000"/>
<rect x="659.92" y="471.2" width="5.85" height="24" fill="#000"/>
<rect x="666.87" y="432.3" width="1.3" height="21.1" fill="#c6c6c6"/>
<rect x="665.92" y="432.3" width="3.2" height="1.2" fill="#c6c6c6"/>
<rect x="664.52" y="453.4" width="6.3" height="41.8" fill="#c6c6c6"/>
<rect x="679.93" y="464.2" width="1.3" height="16.2" fill="#c6c6c6"/>
<rect x="678.98" y="464.2" width="3.2" height="1.2" fill="#c6c6c6"/>
<rect x="677.58" y="480.4" width="6.3" height="14.8" fill="#c6c6c6"/>
<rect x="57.35" y="285.9" width="2.8" height="211.9" fill="#000"/>
<rect x="57.4" y="494.95" width="627.6" height="2.85" fill="#000"/>
<rect x="53.2" y="285.9" width="4.4" height="2.6" fill="#000"/>
<text class="b d" font-size="13.5" text-anchor="end" transform="translate(52.6,291.9) scale(0.98,1.05)">16</text>
<rect x="53.2" y="338" width="4.4" height="2.6" fill="#000"/>
<text class="b d" font-size="13.5" text-anchor="end" transform="translate(52.6,344) scale(0.98,1.05)">12</text>
<rect x="53.2" y="390.1" width="4.4" height="2.6" fill="#000"/>
<text class="b d" font-size="13.5" text-anchor="end" transform="translate(52.6,396.1) scale(0.98,1.05)">8</text>
<rect x="53.2" y="442.2" width="4.4" height="2.6" fill="#000"/>
<text class="b d" font-size="13.5" text-anchor="end" transform="translate(52.6,448.2) scale(0.98,1.05)">4</text>
<rect x="53.2" y="494.3" width="4.4" height="2.6" fill="#000"/>
<text class="b d" font-size="13.5" text-anchor="end" transform="translate(52.6,500.3) scale(0.98,1.05)">0</text>
<rect x="63.15" y="497" width="2.5" height="4.8" fill="#000"/>
<text class="b" font-size="9.35" text-anchor="end" transform="translate(66.8,508.8) rotate(-45)">hIGHV1-2</text>
<rect x="76.21" y="497" width="2.5" height="4.8" fill="#000"/>
<text class="b" font-size="9.35" text-anchor="end" transform="translate(79.86,508.8) rotate(-45)">hIGHV1-3</text>
<rect x="89.26" y="497" width="2.5" height="4.8" fill="#000"/>
<text class="b" font-size="9.35" text-anchor="end" transform="translate(92.91,508.8) rotate(-45)">hIGHV1-8</text>
<rect x="102.32" y="497" width="2.5" height="4.8" fill="#000"/>
<text class="b" font-size="9.35" text-anchor="end" transform="translate(105.97,508.8) rotate(-45)">hIGHV1-18</text>
<rect x="115.38" y="497" width="2.5" height="4.8" fill="#000"/>
<text class="b" font-size="9.35" text-anchor="end" transform="translate(119.03,508.8) rotate(-45)">hIGHV1-24</text>
<rect x="128.43" y="497" width="2.5" height="4.8" fill="#000"/>
<text class="b" font-size="9.35" text-anchor="end" transform="translate(132.08,508.8) rotate(-45)">hIGHV1-45</text>
<rect x="141.49" y="497" width="2.5" height="4.8" fill="#000"/>
<text class="b" font-size="9.35" text-anchor="end" transform="translate(145.14,508.8) rotate(-45)">hIGHV1-46</text>
<rect x="154.55" y="497" width="2.5" height="4.8" fill="#000"/>
<text class="b" font-size="9.35" text-anchor="end" transform="translate(158.2,508.8) rotate(-45)">hIGHV1-58</text>
<rect x="167.61" y="497" width="2.5" height="4.8" fill="#000"/>
<text class="b" font-size="9.35" text-anchor="end" transform="translate(171.26,508.8) rotate(-45)">hIGHV1-69</text>
<rect x="180.66" y="497" width="2.5" height="4.8" fill="#000"/>
<text class="b" font-size="9.35" text-anchor="end" transform="translate(184.31,508.8) rotate(-45)">hIGHV1-f</text>
<rect x="193.72" y="497" width="2.5" height="4.8" fill="#000"/>
<text class="b" font-size="9.35" text-anchor="end" transform="translate(197.37,508.8) rotate(-45)">hIGHV2-5</text>
<rect x="206.78" y="497" width="2.5" height="4.8" fill="#000"/>
<text class="b" font-size="9.35" text-anchor="end" transform="translate(210.43,508.8) rotate(-45)">hIGHV2-26</text>
<rect x="219.83" y="497" width="2.5" height="4.8" fill="#000"/>
<text class="b" font-size="9.35" text-anchor="end" transform="translate(223.48,508.8) rotate(-45)">hIGHV2-70</text>
<rect x="232.89" y="497" width="2.5" height="4.8" fill="#000"/>
<text class="b" font-size="9.35" text-anchor="end" transform="translate(236.54,508.8) rotate(-45)">hIGHV3-7</text>
<rect x="245.95" y="497" width="2.5" height="4.8" fill="#000"/>
<text class="b" font-size="9.35" text-anchor="end" transform="translate(249.6,508.8) rotate(-45)">hIGHV3-9</text>
<rect x="259.01" y="497" width="2.5" height="4.8" fill="#000"/>
<text class="b" font-size="9.35" text-anchor="end" transform="translate(262.66,508.8) rotate(-45)">hIGHV3-11</text>
<rect x="272.06" y="497" width="2.5" height="4.8" fill="#000"/>
<text class="b" font-size="9.35" text-anchor="end" transform="translate(275.71,508.8) rotate(-45)">hIGHV3-13</text>
<rect x="285.12" y="497" width="2.5" height="4.8" fill="#000"/>
<text class="b" font-size="9.35" text-anchor="end" transform="translate(288.77,508.8) rotate(-45)">hIGHV3-15</text>
<rect x="298.18" y="497" width="2.5" height="4.8" fill="#000"/>
<text class="b" font-size="9.35" text-anchor="end" transform="translate(301.83,508.8) rotate(-45)">hIGHV3-20</text>
<rect x="311.23" y="497" width="2.5" height="4.8" fill="#000"/>
<text class="b" font-size="9.35" text-anchor="end" transform="translate(314.88,508.8) rotate(-45)">hIGHV3-21</text>
<rect x="324.29" y="497" width="2.5" height="4.8" fill="#000"/>
<text class="b" font-size="9.35" text-anchor="end" transform="translate(327.94,508.8) rotate(-45)">hIGHV3-23</text>
<rect x="337.35" y="497" width="2.5" height="4.8" fill="#000"/>
<text class="b" font-size="9.35" text-anchor="end" transform="translate(341,508.8) rotate(-45)">hIGHV3-30-3</text>
<rect x="350.4" y="497" width="2.5" height="4.8" fill="#000"/>
<text class="b" font-size="9.35" text-anchor="end" transform="translate(354.05,508.8) rotate(-45)">hIGHV3-30</text>
<rect x="363.46" y="497" width="2.5" height="4.8" fill="#000"/>
<text class="b" font-size="9.35" text-anchor="end" transform="translate(367.11,508.8) rotate(-45)">hIGHV3-33</text>
<rect x="376.52" y="497" width="2.5" height="4.8" fill="#000"/>
<text class="b" font-size="9.35" text-anchor="end" transform="translate(380.17,508.8) rotate(-45)">hIGHV3-43</text>
<rect x="389.58" y="497" width="2.5" height="4.8" fill="#000"/>
<text class="b" font-size="9.35" text-anchor="end" transform="translate(393.23,508.8) rotate(-45)">hIGHV3-48</text>
<rect x="402.63" y="497" width="2.5" height="4.8" fill="#000"/>
<text class="b" font-size="9.35" text-anchor="end" transform="translate(406.28,508.8) rotate(-45)">hIGHV3-49</text>
<rect x="415.69" y="497" width="2.5" height="4.8" fill="#000"/>
<text class="b" font-size="9.35" text-anchor="end" transform="translate(419.34,508.8) rotate(-45)">hIGHV3-53</text>
<rect x="428.75" y="497" width="2.5" height="4.8" fill="#000"/>
<text class="b" font-size="9.35" text-anchor="end" transform="translate(432.4,508.8) rotate(-45)">hIGHV3-64</text>
<rect x="441.8" y="497" width="2.5" height="4.8" fill="#000"/>
<text class="b" font-size="9.35" text-anchor="end" transform="translate(445.45,508.8) rotate(-45)">hIGHV3-66</text>
<rect x="454.86" y="497" width="2.5" height="4.8" fill="#000"/>
<text class="b" font-size="9.35" text-anchor="end" transform="translate(458.51,508.8) rotate(-45)">hIGHV3-72</text>
<rect x="467.92" y="497" width="2.5" height="4.8" fill="#000"/>
<text class="b" font-size="9.35" text-anchor="end" transform="translate(471.57,508.8) rotate(-45)">hIGHV3-73</text>
<rect x="480.97" y="497" width="2.5" height="4.8" fill="#000"/>
<text class="b" font-size="9.35" text-anchor="end" transform="translate(484.62,508.8) rotate(-45)">hIGHV3-74</text>
<rect x="494.03" y="497" width="2.5" height="4.8" fill="#000"/>
<text class="b" font-size="9.35" text-anchor="end" transform="translate(497.68,508.8) rotate(-45)">hIGHV3-d</text>
<rect x="507.09" y="497" width="2.5" height="4.8" fill="#000"/>
<text class="b" font-size="9.35" text-anchor="end" transform="translate(510.74,508.8) rotate(-45)">hIGHV4-4</text>
<rect x="520.14" y="497" width="2.5" height="4.8" fill="#000"/>
<text class="b" font-size="9.35" text-anchor="end" transform="translate(523.79,508.8) rotate(-45)">hIGHV4-28</text>
<rect x="533.2" y="497" width="2.5" height="4.8" fill="#000"/>
<text class="b" font-size="9.35" text-anchor="end" transform="translate(536.85,508.8) rotate(-45)">hIGHV4-30-2</text>
<rect x="546.26" y="497" width="2.5" height="4.8" fill="#000"/>
<text class="b" font-size="9.35" text-anchor="end" transform="translate(549.91,508.8) rotate(-45)">hIGHV4-30-4</text>
<rect x="559.32" y="497" width="2.5" height="4.8" fill="#000"/>
<text class="b" font-size="9.35" text-anchor="end" transform="translate(562.97,508.8) rotate(-45)">hIGHV4-31</text>
<rect x="572.37" y="497" width="2.5" height="4.8" fill="#000"/>
<text class="b" font-size="9.35" text-anchor="end" transform="translate(576.02,508.8) rotate(-45)">hIGHV4-34</text>
<rect x="585.43" y="497" width="2.5" height="4.8" fill="#000"/>
<text class="b" font-size="9.35" text-anchor="end" transform="translate(589.08,508.8) rotate(-45)">hIGHV4-39</text>
<rect x="598.49" y="497" width="2.5" height="4.8" fill="#000"/>
<text class="b" font-size="9.35" text-anchor="end" transform="translate(602.14,508.8) rotate(-45)">hIGHV4-59</text>
<rect x="611.54" y="497" width="2.5" height="4.8" fill="#000"/>
<text class="b" font-size="9.35" text-anchor="end" transform="translate(615.19,508.8) rotate(-45)">hIGHV4-61</text>
<rect x="624.6" y="497" width="2.5" height="4.8" fill="#000"/>
<text class="b" font-size="9.35" text-anchor="end" transform="translate(628.25,508.8) rotate(-45)">hIGHV4-b</text>
<rect x="637.66" y="497" width="2.5" height="4.8" fill="#000"/>
<text class="b" font-size="9.35" text-anchor="end" transform="translate(641.31,508.8) rotate(-45)">hIGHV5-51</text>
<rect x="650.72" y="497" width="2.5" height="4.8" fill="#000"/>
<text class="b" font-size="9.35" text-anchor="end" transform="translate(654.37,508.8) rotate(-45)">hIGHV5-a</text>
<rect x="663.77" y="497" width="2.5" height="4.8" fill="#000"/>
<text class="b" font-size="9.35" text-anchor="end" transform="translate(667.42,508.8) rotate(-45)">hIGHV6-1</text>
<rect x="676.83" y="497" width="2.5" height="4.8" fill="#000"/>
<text class="b" font-size="9.35" text-anchor="end" transform="translate(680.48,508.8) rotate(-45)">hIGHV7-4-1</text>
<text class="b" font-size="15" text-anchor="middle" transform="translate(32,389.8) rotate(-90) scale(1,1.04)">Average % Use</text>
<rect x="589.8" y="305.1" width="17.5" height="11.4" fill="#000"/>
<rect x="589.8" y="324.4" width="17.5" height="11.3" fill="#c6c6c6"/>
<text font-size="11.15" transform="translate(614.5,314.8) scale(1,1.05)">iBA BRs</text>
<text font-size="11.15" transform="translate(614.5,333.7) scale(1,1.05)">BASM BRs</text>
<text class="b" font-size="18" transform="translate(0.4,263) scale(1,1.07)">c.</text>
</g>
</svg></body></html>
